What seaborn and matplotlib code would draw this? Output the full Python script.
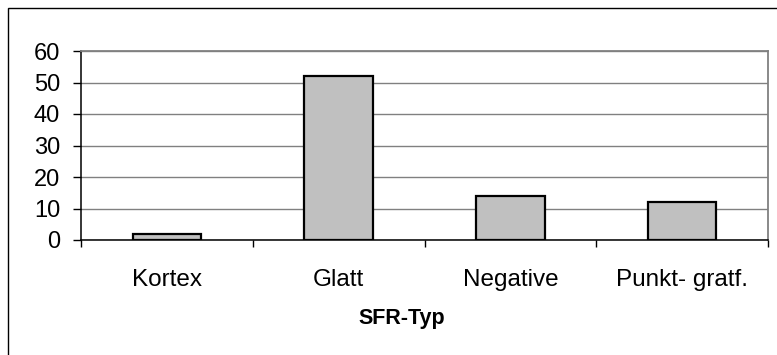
import matplotlib
matplotlib.use('Agg')
import matplotlib.pyplot as plt
from matplotlib.patches import Rectangle
import seaborn as sns
import pandas as pd

sns.set_style('white')
plt.rcParams['font.family'] = ['Liberation Sans', 'DejaVu Sans']
plt.rcParams['text.color'] = 'black'
plt.rcParams['xtick.color'] = 'black'
plt.rcParams['ytick.color'] = 'black'
plt.rcParams['axes.labelcolor'] = 'black'

# Daten
kategorien = ['Kortex', 'Glatt', 'Negative', 'Punkt- gratf.']
anzahl = [2, 52, 14, 12]
y_ticks = [0, 10, 20, 30, 40, 50, 60]

df = pd.DataFrame({'SFR-Typ': kategorien, 'Anzahl': anzahl})

W, H = 777, 355
fig = plt.figure(figsize=(W / 100, H / 100), dpi=100)
ax = fig.add_axes([81 / W, 1 - 240 / H, 687 / W, 189 / H])

sns.barplot(data=df, x='SFR-Typ', y='Anzahl', color='#C0C0C0', width=0.4,
            edgecolor='black', linewidth=1.6, saturation=1, ax=ax, zorder=3)

ax.set_ylim(0, 60)
ax.set_xlim(-0.5, len(kategorien) - 0.5)
ax.set_yticks(y_ticks)
ax.set_yticklabels([str(v) for v in y_ticks])

# Gitterlinien grau
ax.yaxis.grid(True, color='#808080', linewidth=1.0, zorder=0)
ax.set_axisbelow(True)

for s in ['top', 'right']:
    ax.spines[s].set_color('#808080')
    ax.spines[s].set_linewidth(1.3)
for s in ['left', 'bottom']:
    ax.spines[s].set_color('black')
    ax.spines[s].set_linewidth(1.1)

# Ticks: y nach außen, x an Kategoriegrenzen
ax.tick_params(axis='y', which='major', direction='out', length=6, width=1,
               color='black', labelcolor='black', pad=9, labelsize=17, left=True)
ax.set_xticks([i - 0.5 for i in range(len(kategorien) + 1)], minor=True)
ax.tick_params(axis='x', which='minor', direction='out', length=5, width=1,
               color='black', bottom=True)
ax.tick_params(axis='x', which='major', length=0, pad=21, labelsize=17.5,
               labelcolor='black')

ax.set_ylabel('')
ax.set_xlabel('SFR-Typ', fontsize=15.5, fontweight='bold', color='black')
ax.xaxis.set_label_coords(0.467, -0.36)

# Rahmen um das Diagramm
fig.patches.append(Rectangle((8 / W, -0.1), 1.2, 1 - 8 / H + 0.1,
                             transform=fig.transFigure, fill=False,
                             edgecolor='black', linewidth=1.0))

fig.savefig('out.png', dpi=100)
